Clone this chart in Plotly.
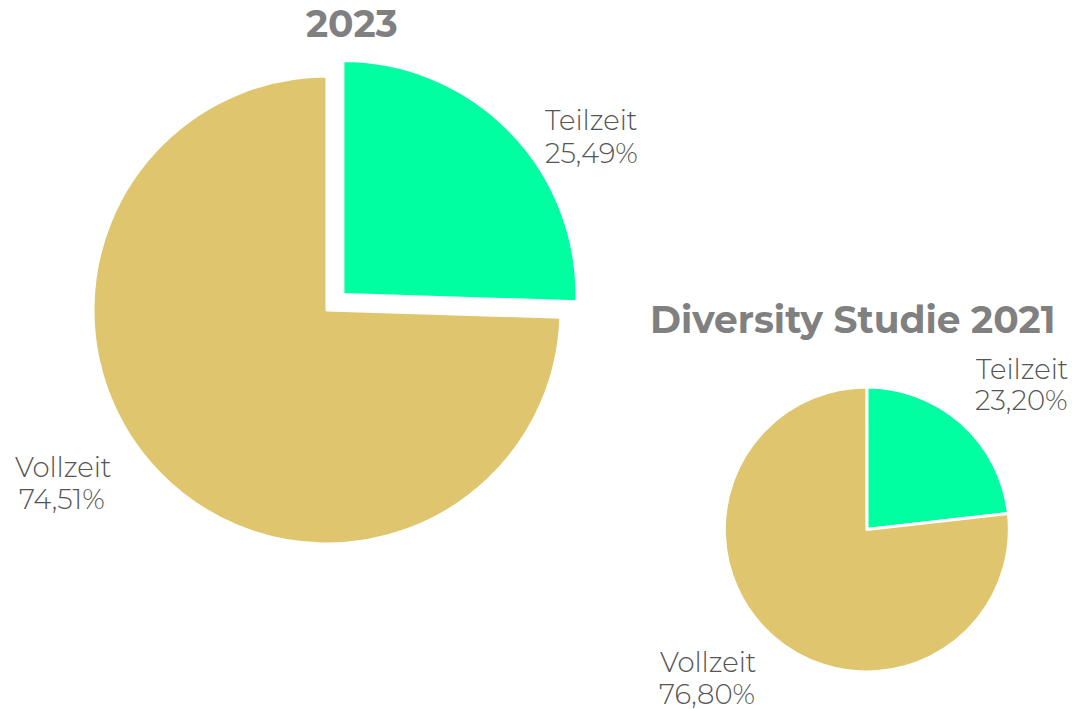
import plotly.graph_objects as go

categories = ["Teilzeit", "Vollzeit"]
values_2023 = [25.49, 74.51]
values_2021 = [23.20, 76.80]
titles = ["2023", "Diversity Studie 2021"]
colors = ["#00FFA0", "#DEC56E"]

FONT = "Montserrat, Inter, sans-serif"
LABEL_COLOR = "#555555"
TITLE_COLOR = "#808080"
W, H = 1072, 709


def fmt(v):
    return f"{v:.2f}%".replace(".", ",")


fig = go.Figure()

fig.add_trace(go.Pie(
    labels=categories, values=values_2023, sort=False, direction="clockwise",
    rotation=0, pull=[0.095, 0],
    marker=dict(colors=colors, line=dict(color="white", width=3)),
    textinfo="none",
    domain=dict(x=[0.0660, 0.5440], y=[0.2014, 0.9241]),
    showlegend=False, hoverinfo="label+percent",
))

fig.add_trace(go.Pie(
    labels=categories, values=values_2021, sort=False, direction="clockwise",
    rotation=0,
    marker=dict(colors=colors, line=dict(color="white", width=3)),
    textinfo="none",
    domain=dict(x=[0.6757, 0.9415], y=[0.0522, 0.4542]),
    showlegend=False, hoverinfo="label+percent",
))


def ann(text, px, py, size, color, bold=False, weight=None, height=None):
    f = dict(family=FONT, size=size, color=color)
    if weight is not None:
        f["weight"] = weight
    kw = {}
    if height is not None:
        kw["height"] = height
    fig.add_annotation(text=("<b>" + text + "</b>") if bold else text,
                       x=px / W, y=1 - py / H, xref="paper", yref="paper",
                       showarrow=False, xanchor="center", yanchor="middle", font=f, **kw)


# titles
ann(titles[0], 351.7, 24, 37.5, TITLE_COLOR, bold=True)
ann(titles[1], 852.5, 319, 37.5, TITLE_COLOR, bold=True)

# slice labels (label line, value line)
label_pos_2023 = [((591.7, 120), (591.3, 152.5)), ((63, 466), (62, 498))]
label_pos_2021 = [((1022, 368), (1021.7, 399)), ((708.3, 661.5), (707.3, 693.5))]
for vals, positions in ((values_2023, label_pos_2023), (values_2021, label_pos_2021)):
    for cat, v, (p1, p2) in zip(categories, vals, positions):
        ann(cat, p1[0], p1[1], 27.5, LABEL_COLOR, weight=300, height=31)
        ann(fmt(v), p2[0], p2[1], 27.5, LABEL_COLOR, weight=300, height=31)

fig.update_layout(
    width=W, height=H,
    margin=dict(l=0, r=0, t=0, b=0),
    paper_bgcolor="white", plot_bgcolor="white",
    separators=",.",
)

fig.write_html(
    "out.html",
    config={"displayModeBar": False},
    post_script="document.body.style.margin='0';document.documentElement.style.overflow='hidden';",
)
